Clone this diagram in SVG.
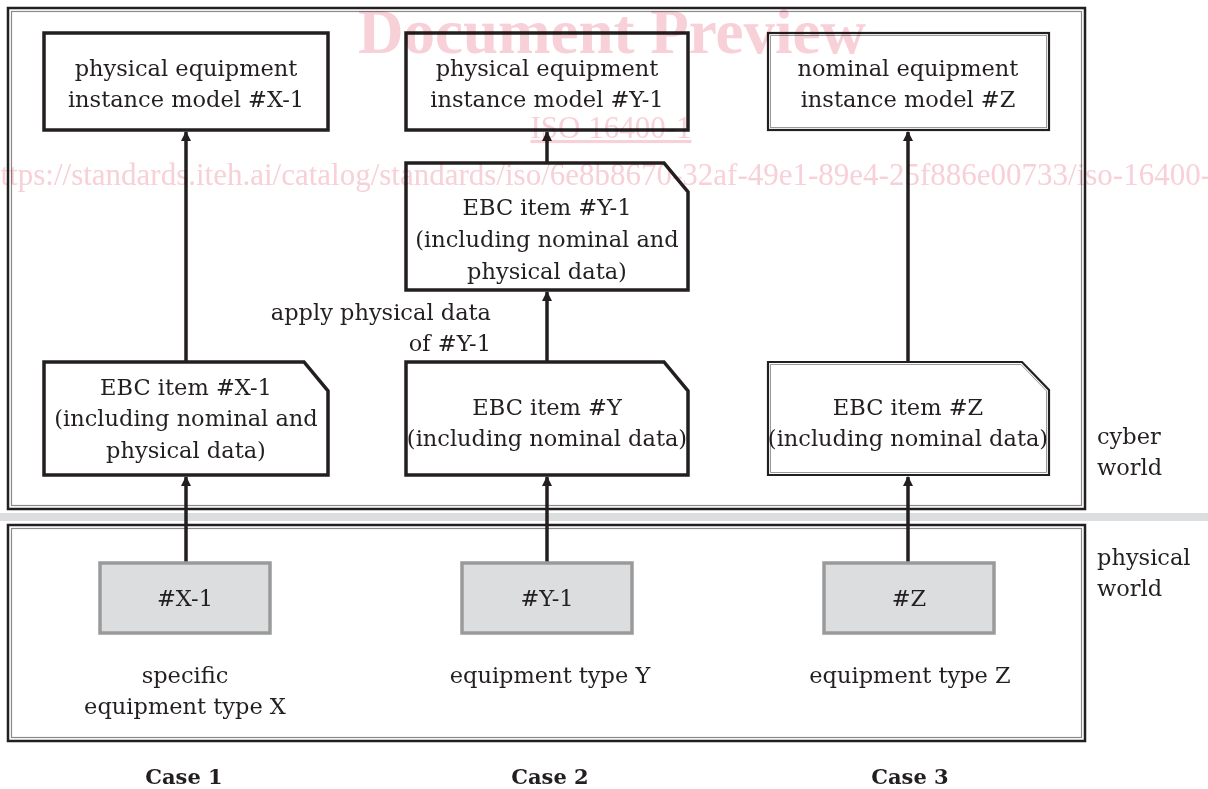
<svg xmlns="http://www.w3.org/2000/svg" width="1208" height="789" viewBox="0 0 1208 789">
<style>
.t{font-family:"DejaVu Serif","Liberation Serif",serif;font-size:22.5px;fill:#231f20;text-anchor:middle}
.l{font-family:"DejaVu Serif","Liberation Serif",serif;font-size:22.5px;fill:#231f20}
.b{font-family:"DejaVu Serif","Liberation Serif",serif;font-size:21px;font-weight:bold;fill:#231f20;text-anchor:middle}
.thick{fill:#fff;stroke:#231f20;stroke-width:3.5}
.thin{fill:#fff;stroke:#231f20;stroke-width:2.2}
.thin2{fill:none;stroke:#9a9a9a;stroke-width:1}
.phys{fill:#dcdddf;stroke:#9a9a9a;stroke-width:3.5}
.frame{fill:none;stroke:#231f20;stroke-width:2.5}
.frame2{fill:none;stroke:#8a8a8a;stroke-width:1.2}
.wm{font-family:"Liberation Serif",serif;fill:#f7d0d8}
.arr{stroke:#231f20;stroke-width:3.5;fill:none;marker-end:url(#ah)}
</style>
<defs>
<marker id="ah" viewBox="0 0 10 12" refX="9" refY="6" markerWidth="10" markerHeight="12" markerUnits="userSpaceOnUse" orient="auto">
<path d="M0,1 L10,6 L0,11 Z" fill="#231f20"/>
</marker>
</defs>
<rect width="1208" height="789" fill="#fff"/>
<g id="frames">
<rect class="frame" x="8" y="8" width="1077" height="501"/>
<rect class="frame2" x="11.5" y="11.5" width="1070" height="494"/>
<rect x="0" y="513" width="1208" height="8" fill="#dcdddf"/>
<rect class="frame" x="8" y="525" width="1077" height="216"/>
<rect class="frame2" x="11.5" y="528.5" width="1070" height="209"/>
</g>
<g id="connectors">
<line class="arr" x1="186" y1="563" x2="186" y2="477"/>
<line class="arr" x1="186" y1="362" x2="186" y2="132"/>
<line class="arr" x1="547" y1="563" x2="547" y2="477"/>
<line class="arr" x1="547" y1="362" x2="547" y2="292"/>
<line class="arr" x1="547" y1="163" x2="547" y2="132"/>
<line class="arr" x1="908" y1="563" x2="908" y2="477"/>
<line class="arr" x1="908" y1="362" x2="908" y2="132"/>
</g>
<g id="pe-x1">
<rect class="thick" x="44" y="33" width="284" height="97"/>
<text class="t" x="186" y="76">physical equipment</text>
<text class="t" x="186" y="107">instance model #X-1</text>
</g>
<g id="pe-y1">
<rect class="thick" x="406" y="33" width="282" height="97"/>
<text class="t" x="547" y="76">physical equipment</text>
<text class="t" x="547" y="107">instance model #Y-1</text>
</g>
<g id="ne-z">
<rect class="thin" x="768" y="33" width="281" height="97"/>
<rect class="thin2" x="770.5" y="35.5" width="276" height="92"/>
<text class="t" x="908" y="76">nominal equipment</text>
<text class="t" x="908" y="107">instance model #Z</text>
</g>
<g id="ebc-y1">
<path class="thick" d="M406,163 H664 L688,192 V290 H406 Z"/>
<text class="t" x="547" y="215">EBC item #Y-1</text>
<text class="t" x="547" y="247">(including nominal and</text>
<text class="t" x="547" y="279">physical data)</text>
</g>
<g id="apply-label">
<text class="l" x="491" y="320" text-anchor="end">apply physical data</text>
<text class="l" x="491" y="351" text-anchor="end">of #Y-1</text>
</g>
<g id="ebc-x1">
<path class="thick" d="M44,362 H304 L328,391 V475 H44 Z"/>
<text class="t" x="186" y="395">EBC item #X-1</text>
<text class="t" x="186" y="426">(including nominal and</text>
<text class="t" x="186" y="458">physical data)</text>
</g>
<g id="ebc-y">
<path class="thick" d="M406,362 H664 L688,391 V475 H406 Z"/>
<text class="t" x="547" y="415">EBC item #Y</text>
<text class="t" x="547" y="446">(including nominal data)</text>
</g>
<g id="ebc-z">
<path class="thin" d="M768,362 H1022 L1049,390 V475 H768 Z"/>
<path class="thin2" d="M770.5,364.5 H1021 L1046.5,391 V472.5 H770.5 Z"/>
<text class="t" x="908" y="415">EBC item #Z</text>
<text class="t" x="908" y="446">(including nominal data)</text>
</g>
<g id="phys-x1">
<rect class="phys" x="100" y="563" width="170" height="70"/>
<text class="t" x="185" y="606">#X-1</text>
</g>
<g id="phys-y1">
<rect class="phys" x="462" y="563" width="170" height="70"/>
<text class="t" x="547" y="606">#Y-1</text>
</g>
<g id="phys-z">
<rect class="phys" x="824" y="563" width="170" height="70"/>
<text class="t" x="909" y="606">#Z</text>
</g>
<g id="labels">
<text class="t" x="185" y="683">specific</text>
<text class="t" x="185" y="714">equipment type X</text>
<text class="t" x="550" y="683">equipment type Y</text>
<text class="t" x="910" y="683">equipment type Z</text>
<text class="l" x="1097" y="444">cyber</text>
<text class="l" x="1097" y="475">world</text>
<text class="l" x="1097" y="565">physical</text>
<text class="l" x="1097" y="596">world</text>
<text class="b" x="184" y="784">Case 1</text>
<text class="b" x="550" y="784">Case 2</text>
<text class="b" x="910" y="784">Case 3</text>
</g>
<g id="watermark" style="mix-blend-mode:multiply">
<text class="wm" x="612" y="53" font-size="63" font-weight="bold" text-anchor="middle">Document Preview</text>
<text class="wm" x="611" y="138" font-size="31" text-anchor="middle" text-decoration="underline">ISO 16400-1</text>
<text class="wm" x="-15" y="185" font-size="31">https://standards.iteh.ai/catalog/standards/iso/6e8b8670-32af-49e1-89e4-25f886e00733/iso-16400-1</text>
</g>
</svg>
